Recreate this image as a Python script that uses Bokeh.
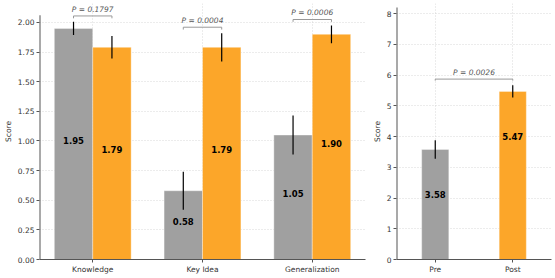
from bokeh.plotting import figure
from bokeh.models import Range1d, FixedTicker, Label, ColumnDataSource
from bokeh.layouts import row
from bokeh.embed import file_html
from bokeh.resources import INLINE
from bokeh.core.properties import value

# ---- data ----
categories = ["Knowledge", "Key Idea", "Generalization"]
pre_scores = [1.95, 0.58, 1.05]
post_scores = [1.79, 1.79, 1.90]
pre_err = [0.055, 0.16, 0.165]
post_err = [0.095, 0.12, 0.075]
p_values = ["0.1797", "0.0004", "0.0006"]

overall_labels = ["Pre", "Post"]
overall_scores = [3.58, 5.47]
overall_err = [0.30, 0.20]
overall_p = "0.0026"

left_ticks = [0, 0.25, 0.5, 0.75, 1.0, 1.25, 1.5, 1.75, 2.0]
right_ticks = [0, 1, 2, 3, 4, 5, 6, 7, 8]

GRAY = "#a0a0a0"
ORANGE = "#fca629"
FONT = "DejaVu Sans"
W = 0.35
LEFT_YLIM = 2.06      # extent of the left spine (matplotlib-like ylim)
LEFT_VIEW = 2.16      # visible range, room for the p-value texts
RIGHT_YLIM = 8.2
RIGHT_VIEW = 8.33
H = 276


def style(p, yticks, fmt):
    p.outline_line_color = None
    p.background_fill_color = "white"
    p.border_fill_color = "white"
    for ax in (p.xaxis[0], p.yaxis[0]):
        ax.axis_line_color = "#555555"
        ax.axis_line_width = 1
        ax.major_tick_line_color = "#555555"
        ax.major_tick_out = 3
        ax.major_tick_in = 0
        ax.minor_tick_line_color = None
        ax.major_label_text_font = FONT
        ax.major_label_text_font_size = "7.5px"
        ax.major_label_text_color = "#333333"
        ax.major_label_standoff = 2
        ax.axis_label_text_font = FONT
        ax.axis_label_text_font_size = "7.5px"
        ax.axis_label_text_font_style = "normal"
        ax.axis_label_text_color = "#333333"
        ax.axis_label_standoff = 2
    p.yaxis[0].ticker = FixedTicker(ticks=yticks)
    p.yaxis[0].major_label_overrides = {t: fmt.format(t) for t in yticks}
    p.yaxis[0].axis_line_color = None
    for g in (p.xgrid[0], p.ygrid[0]):
        g.grid_line_color = "#cfcfcf"
        g.grid_line_dash = "1 2"
        g.grid_line_width = 0.8


# ---- left figure ----
n = len(categories)
xr = Range1d(-0.485, n - 1 + 0.485)
left = figure(width=369, height=H, output_backend="svg", toolbar_location=None,
              x_range=xr, y_range=Range1d(0, LEFT_VIEW),
              min_border_left=29, min_border_right=4, min_border_top=3, min_border_bottom=14)
style(left, left_ticks, "{:.2f}")
left.yaxis[0].axis_label = "Score"
left.segment(x0=[xr.start], y0=[0], x1=[xr.start], y1=[LEFT_YLIM],
             line_color="#555555", line_width=2)
left.xaxis[0].ticker = FixedTicker(ticks=list(range(n)))
left.xaxis[0].major_label_overrides = {i: c for i, c in enumerate(categories)}

xs = list(range(n))
xpre = [x - W / 2 for x in xs]
xpost = [x + W / 2 for x in xs]

src_pre = ColumnDataSource(dict(x=xpre, top=pre_scores,
                                lo=[v - e for v, e in zip(pre_scores, pre_err)],
                                hi=[v + e for v, e in zip(pre_scores, pre_err)],
                                ly=[min(v / 2, 1.0) + 0.03 for v in pre_scores],
                                lab=["%.2f" % v for v in pre_scores]))
src_post = ColumnDataSource(dict(x=xpost, top=post_scores,
                                 lo=[v - e for v, e in zip(post_scores, post_err)],
                                 hi=[v + e for v, e in zip(post_scores, post_err)],
                                 ly=[min(v / 2, 1.0) + 0.03 for v in post_scores],
                                 lab=["%.2f" % v for v in post_scores]))

for src, col in ((src_pre, GRAY), (src_post, ORANGE)):
    left.vbar(x="x", top="top", width=W, bottom=0, source=src, fill_color=col,
              line_color="#ffffff", line_alpha=0.6, line_width=0.6)
    left.segment(x0="x", y0="lo", x1="x", y1="hi", source=src, line_color="#000000",
                 line_width=1.2)
    left.text(x="x", y="ly", text="lab", source=src, text_align="center",
              text_baseline="middle", text_font=value(FONT), text_font_style="bold",
              text_font_size="8.5px", text_color="#000000")

# significance brackets
for i in range(n):
    yb = max(pre_scores[i] + pre_err[i], post_scores[i] + post_err[i]) + 0.05
    x0, x1 = xpre[i], xpost[i]
    left.line(x=[x0, x0, x1, x1], y=[yb - 0.02, yb, yb, yb - 0.02],
              line_color="#999999", line_width=1)
    left.add_layout(Label(x=(x0 + x1) / 2, y=yb + 0.02, text="P = " + p_values[i],
                          text_align="center", text_baseline="bottom",
                          text_font=FONT, text_font_style="italic",
                          text_font_size="7.5px", text_color="#555555"))

# ---- right figure ----
m = len(overall_labels)
xr2 = Range1d(-0.5, m - 1 + 0.5)
right = figure(width=184, height=H, output_backend="svg", toolbar_location=None,
               x_range=xr2, y_range=Range1d(0, RIGHT_VIEW),
               min_border_left=26, min_border_right=2, min_border_top=3, min_border_bottom=14)
style(right, right_ticks, "{:d}")
right.yaxis[0].axis_label = "Score"
right.segment(x0=[xr2.start], y0=[0], x1=[xr2.start], y1=[RIGHT_YLIM],
              line_color="#555555", line_width=2)
right.xaxis[0].ticker = FixedTicker(ticks=list(range(m)))
right.xaxis[0].major_label_overrides = {i: c for i, c in enumerate(overall_labels)}

src_o = ColumnDataSource(dict(x=list(range(m)), top=overall_scores,
                              lo=[v - e for v, e in zip(overall_scores, overall_err)],
                              hi=[v + e for v, e in zip(overall_scores, overall_err)],
                              ly=[v - 1.47 for v in overall_scores],
                              lab=["%.2f" % v for v in overall_scores],
                              col=[GRAY, ORANGE]))
right.vbar(x="x", top="top", width=W, bottom=0, source=src_o, fill_color="col",
           line_color="#ffffff", line_alpha=0.6, line_width=0.6)
right.segment(x0="x", y0="lo", x1="x", y1="hi", source=src_o, line_color="#000000",
              line_width=1.2)
right.text(x="x", y="ly", text="lab", source=src_o, text_align="center",
           text_baseline="middle", text_font=value(FONT), text_font_style="bold",
           text_font_size="8.5px", text_color="#000000")

yb = max(v + e for v, e in zip(overall_scores, overall_err)) + 0.2
right.line(x=[0, 0, 1, 1], y=[yb - 0.05, yb, yb, yb - 0.05], line_color="#999999", line_width=1)
right.add_layout(Label(x=0.5, y=yb + 0.06, text="P = " + overall_p,
                       text_align="center", text_baseline="bottom",
                       text_font=FONT, text_font_style="italic",
                       text_font_size="7.5px", text_color="#555555"))

p = row(left, right)
open("out.html", "w").write(file_html(p, INLINE))
